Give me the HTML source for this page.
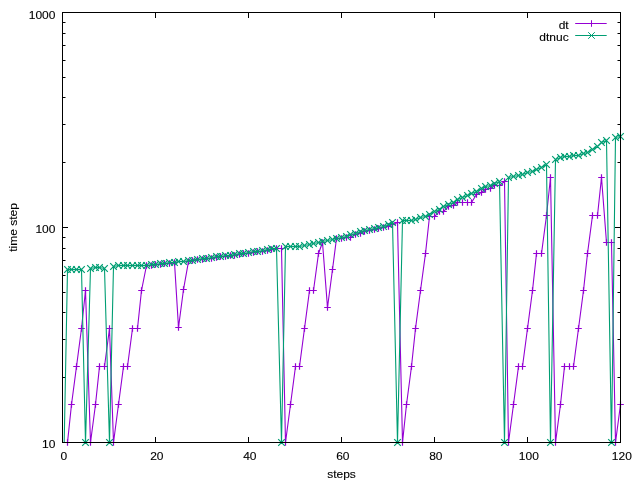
<!DOCTYPE html>
<html><head><meta charset="utf-8"><title>dt / dtnuc vs steps</title>
<style>html,body{margin:0;padding:0;background:#fff;overflow:hidden}svg{display:block}</style>
</head><body>
<svg width="640" height="480" viewBox="0 0 640 480">
<rect width="640" height="480" fill="#fff"/>
<path d="M62.5 442.5h5.5M620.5 442.5h-5.5M62.5 377.50h3M620.5 377.50h-3M62.5 339.50h3M620.5 339.50h-3M62.5 312.50h3M620.5 312.50h-3M62.5 292.50h3M620.5 292.50h-3M62.5 275.50h3M620.5 275.50h-3M62.5 260.50h3M620.5 260.50h-3M62.5 248.50h3M620.5 248.50h-3M62.5 237.50h3M620.5 237.50h-3M62.5 227.5h5.5M620.5 227.5h-5.5M62.5 162.50h3M620.5 162.50h-3M62.5 124.50h3M620.5 124.50h-3M62.5 97.50h3M620.5 97.50h-3M62.5 77.50h3M620.5 77.50h-3M62.5 60.50h3M620.5 60.50h-3M62.5 45.50h3M620.5 45.50h-3M62.5 33.50h3M620.5 33.50h-3M62.5 22.50h3M620.5 22.50h-3M62.5 12.5h5.5M620.5 12.5h-5.5M62.50 442.5v-5.5M62.50 12.5v5.5M155.50 442.5v-5.5M155.50 12.5v5.5M248.50 442.5v-5.5M248.50 12.5v5.5M341.50 442.5v-5.5M341.50 12.5v5.5M434.50 442.5v-5.5M434.50 12.5v5.5M527.50 442.5v-5.5M527.50 12.5v5.5M620.50 442.5v-5.5M620.50 12.5v5.5" stroke="#000" stroke-width="1" fill="none"/>
<g font-family="'Liberation Sans', sans-serif" font-size="12" fill="#000" stroke="#000" stroke-width="0.12">
<text transform="translate(55.4 19.0) scale(1 0.96)" text-anchor="end">1000</text>
<text transform="translate(55.4 233.0) scale(1 0.96)" text-anchor="end">100</text>
<text transform="translate(55.4 448.0) scale(1 0.96)" text-anchor="end">10</text>
<text transform="translate(63.8 460.0) scale(1 0.96)" text-anchor="middle">0</text>
<text transform="translate(156.8 460.0) scale(1 0.96)" text-anchor="middle">20</text>
<text transform="translate(249.8 460.0) scale(1 0.96)" text-anchor="middle">40</text>
<text transform="translate(342.8 460.0) scale(1 0.96)" text-anchor="middle">60</text>
<text transform="translate(435.8 460.0) scale(1 0.96)" text-anchor="middle">80</text>
<text transform="translate(528.8 460.0) scale(1 0.96)" text-anchor="middle">100</text>
<text transform="translate(621.8 460.0) scale(1 0.96)" text-anchor="middle">120</text>
<text transform="translate(341.5 477.5) scale(1 0.96)" text-anchor="middle">steps</text>
<text transform="translate(16.7 227.5) rotate(-90) scale(1 0.96)" text-anchor="middle">time step</text>
<text transform="translate(568.7 28.8) scale(1 0.96)" text-anchor="end">dt</text>
<text transform="translate(568.7 40.8) scale(1 0.96)" text-anchor="end">dtnuc</text>
</g>
<path d="M67.50 442.50L71.50 404.50L76.50 366.50L81.50 328.50L85.50 290.50L90.50 442.50L95.50 404.50L99.50 366.50L104.50 366.50L109.50 328.50L113.50 442.50L118.50 404.50L123.50 366.50L127.50 366.50L132.50 328.50L137.50 328.50L141.50 290.50L146.50 265.50L151.50 265.50L155.50 264.50L160.50 264.50L164.50 263.50L169.50 263.50L174.50 262.50L178.50 327.50L183.50 289.50L188.50 261.50L192.50 260.50L197.50 259.50L202.50 259.50L206.50 258.50L211.50 258.50L216.50 257.50L220.50 256.50L225.50 256.50L230.50 255.50L234.50 255.50L239.50 254.50L243.50 253.50L248.50 253.50L253.50 252.50L257.50 251.50L262.50 251.50L267.50 250.50L271.50 249.50L276.50 248.50L281.50 248.50L285.50 442.50L290.50 404.50L295.50 366.50L299.50 366.50L304.50 328.50L309.50 290.50L313.50 290.50L318.50 253.50L322.50 242.50L327.50 307.50L332.50 269.50L336.50 238.50L341.50 238.50L346.50 237.50L350.50 237.50L355.50 234.50L360.50 233.50L364.50 231.50L369.50 230.50L374.50 229.50L378.50 228.50L383.50 227.50L388.50 226.50L392.50 224.50L397.50 222.50L402.50 442.50L406.50 404.50L411.50 366.50L415.50 328.50L420.50 290.50L425.50 253.50L429.50 216.50L434.50 216.50L439.50 211.50L443.50 211.50L448.50 206.50L453.50 205.50L457.50 202.50L462.50 202.50L467.50 202.50L471.50 202.50L476.50 194.50L481.50 192.50L485.50 189.50L490.50 188.50L494.50 185.50L499.50 185.50L504.50 181.50L508.50 442.50L513.50 404.50L518.50 366.50L522.50 366.50L527.50 328.50L532.50 290.50L536.50 253.50L541.50 253.50L546.50 215.50L550.50 177.50L555.50 442.50L560.50 404.50L564.50 366.50L569.50 366.50L573.50 366.50L578.50 328.50L583.50 290.50L587.50 253.50L592.50 215.50L597.50 215.50L601.50 177.50L606.50 242.50L611.50 242.50L615.50 442.50L620.50 404.50" stroke="#9400d3" stroke-width="1.1" fill="none" stroke-linejoin="miter"/>
<path d="M64.20 442.50h6.6M67.50 439.20v6.6M68.20 404.50h6.6M71.50 401.20v6.6M73.20 366.50h6.6M76.50 363.20v6.6M78.20 328.50h6.6M81.50 325.20v6.6M82.20 290.50h6.6M85.50 287.20v6.6M87.20 442.50h6.6M90.50 439.20v6.6M92.20 404.50h6.6M95.50 401.20v6.6M96.20 366.50h6.6M99.50 363.20v6.6M101.20 366.50h6.6M104.50 363.20v6.6M106.20 328.50h6.6M109.50 325.20v6.6M110.20 442.50h6.6M113.50 439.20v6.6M115.20 404.50h6.6M118.50 401.20v6.6M120.20 366.50h6.6M123.50 363.20v6.6M124.20 366.50h6.6M127.50 363.20v6.6M129.20 328.50h6.6M132.50 325.20v6.6M134.20 328.50h6.6M137.50 325.20v6.6M138.20 290.50h6.6M141.50 287.20v6.6M143.20 265.50h6.6M146.50 262.20v6.6M148.20 265.50h6.6M151.50 262.20v6.6M152.20 264.50h6.6M155.50 261.20v6.6M157.20 264.50h6.6M160.50 261.20v6.6M161.20 263.50h6.6M164.50 260.20v6.6M166.20 263.50h6.6M169.50 260.20v6.6M171.20 262.50h6.6M174.50 259.20v6.6M175.20 327.50h6.6M178.50 324.20v6.6M180.20 289.50h6.6M183.50 286.20v6.6M185.20 261.50h6.6M188.50 258.20v6.6M189.20 260.50h6.6M192.50 257.20v6.6M194.20 259.50h6.6M197.50 256.20v6.6M199.20 259.50h6.6M202.50 256.20v6.6M203.20 258.50h6.6M206.50 255.20v6.6M208.20 258.50h6.6M211.50 255.20v6.6M213.20 257.50h6.6M216.50 254.20v6.6M217.20 256.50h6.6M220.50 253.20v6.6M222.20 256.50h6.6M225.50 253.20v6.6M227.20 255.50h6.6M230.50 252.20v6.6M231.20 255.50h6.6M234.50 252.20v6.6M236.20 254.50h6.6M239.50 251.20v6.6M240.20 253.50h6.6M243.50 250.20v6.6M245.20 253.50h6.6M248.50 250.20v6.6M250.20 252.50h6.6M253.50 249.20v6.6M254.20 251.50h6.6M257.50 248.20v6.6M259.20 251.50h6.6M262.50 248.20v6.6M264.20 250.50h6.6M267.50 247.20v6.6M268.20 249.50h6.6M271.50 246.20v6.6M273.20 248.50h6.6M276.50 245.20v6.6M278.20 248.50h6.6M281.50 245.20v6.6M282.20 442.50h6.6M285.50 439.20v6.6M287.20 404.50h6.6M290.50 401.20v6.6M292.20 366.50h6.6M295.50 363.20v6.6M296.20 366.50h6.6M299.50 363.20v6.6M301.20 328.50h6.6M304.50 325.20v6.6M306.20 290.50h6.6M309.50 287.20v6.6M310.20 290.50h6.6M313.50 287.20v6.6M315.20 253.50h6.6M318.50 250.20v6.6M319.20 242.50h6.6M322.50 239.20v6.6M324.20 307.50h6.6M327.50 304.20v6.6M329.20 269.50h6.6M332.50 266.20v6.6M333.20 238.50h6.6M336.50 235.20v6.6M338.20 238.50h6.6M341.50 235.20v6.6M343.20 237.50h6.6M346.50 234.20v6.6M347.20 237.50h6.6M350.50 234.20v6.6M352.20 234.50h6.6M355.50 231.20v6.6M357.20 233.50h6.6M360.50 230.20v6.6M361.20 231.50h6.6M364.50 228.20v6.6M366.20 230.50h6.6M369.50 227.20v6.6M371.20 229.50h6.6M374.50 226.20v6.6M375.20 228.50h6.6M378.50 225.20v6.6M380.20 227.50h6.6M383.50 224.20v6.6M385.20 226.50h6.6M388.50 223.20v6.6M389.20 224.50h6.6M392.50 221.20v6.6M394.20 222.50h6.6M397.50 219.20v6.6M399.20 442.50h6.6M402.50 439.20v6.6M403.20 404.50h6.6M406.50 401.20v6.6M408.20 366.50h6.6M411.50 363.20v6.6M412.20 328.50h6.6M415.50 325.20v6.6M417.20 290.50h6.6M420.50 287.20v6.6M422.20 253.50h6.6M425.50 250.20v6.6M426.20 216.50h6.6M429.50 213.20v6.6M431.20 216.50h6.6M434.50 213.20v6.6M436.20 211.50h6.6M439.50 208.20v6.6M440.20 211.50h6.6M443.50 208.20v6.6M445.20 206.50h6.6M448.50 203.20v6.6M450.20 205.50h6.6M453.50 202.20v6.6M454.20 202.50h6.6M457.50 199.20v6.6M459.20 202.50h6.6M462.50 199.20v6.6M464.20 202.50h6.6M467.50 199.20v6.6M468.20 202.50h6.6M471.50 199.20v6.6M473.20 194.50h6.6M476.50 191.20v6.6M478.20 192.50h6.6M481.50 189.20v6.6M482.20 189.50h6.6M485.50 186.20v6.6M487.20 188.50h6.6M490.50 185.20v6.6M491.20 185.50h6.6M494.50 182.20v6.6M496.20 185.50h6.6M499.50 182.20v6.6M501.20 181.50h6.6M504.50 178.20v6.6M505.20 442.50h6.6M508.50 439.20v6.6M510.20 404.50h6.6M513.50 401.20v6.6M515.20 366.50h6.6M518.50 363.20v6.6M519.20 366.50h6.6M522.50 363.20v6.6M524.20 328.50h6.6M527.50 325.20v6.6M529.20 290.50h6.6M532.50 287.20v6.6M533.20 253.50h6.6M536.50 250.20v6.6M538.20 253.50h6.6M541.50 250.20v6.6M543.20 215.50h6.6M546.50 212.20v6.6M547.20 177.50h6.6M550.50 174.20v6.6M552.20 442.50h6.6M555.50 439.20v6.6M557.20 404.50h6.6M560.50 401.20v6.6M561.20 366.50h6.6M564.50 363.20v6.6M566.20 366.50h6.6M569.50 363.20v6.6M570.20 366.50h6.6M573.50 363.20v6.6M575.20 328.50h6.6M578.50 325.20v6.6M580.20 290.50h6.6M583.50 287.20v6.6M584.20 253.50h6.6M587.50 250.20v6.6M589.20 215.50h6.6M592.50 212.20v6.6M594.20 215.50h6.6M597.50 212.20v6.6M598.20 177.50h6.6M601.50 174.20v6.6M603.20 242.50h6.6M606.50 239.20v6.6M608.20 242.50h6.6M611.50 239.20v6.6M612.20 442.50h6.6M615.50 439.20v6.6M617.20 404.50h6.6M620.50 401.20v6.6" stroke="#9400d3" stroke-width="1.2" fill="none"/>
<path d="M575.2 23.5h31.5M588.20 23.50h6.6M591.50 20.20v6.6" stroke="#9400d3" stroke-width="1" fill="none"/>
<path d="M64.2 442.5L67.50 269.50L71.50 269.50L76.50 269.50L81.50 269.50L85.50 442.50L90.50 268.50L95.50 267.50L99.50 267.50L104.50 268.50L109.50 442.50L113.50 266.50L118.50 265.50L123.50 265.50L127.50 265.50L132.50 265.50L137.50 265.50L141.50 265.50L146.50 265.50L151.50 264.50L155.50 264.50L160.50 263.50L164.50 263.50L169.50 262.50L174.50 262.50L178.50 261.50L183.50 261.50L188.50 260.50L192.50 260.50L197.50 259.50L202.50 258.50L206.50 258.50L211.50 257.50L216.50 256.50L220.50 256.50L225.50 255.50L230.50 255.50L234.50 254.50L239.50 253.50L243.50 253.50L248.50 252.50L253.50 251.50L257.50 251.50L262.50 250.50L267.50 249.50L271.50 248.50L276.50 248.50L281.50 442.50L285.50 246.50L290.50 246.50L295.50 246.50L299.50 246.50L304.50 245.50L309.50 244.50L313.50 243.50L318.50 242.50L322.50 241.50L327.50 240.50L332.50 239.50L336.50 238.50L341.50 237.50L346.50 236.50L350.50 234.50L355.50 233.50L360.50 231.50L364.50 230.50L369.50 229.50L374.50 228.50L378.50 227.50L383.50 226.50L388.50 224.50L392.50 222.50L397.50 442.50L402.50 220.50L406.50 220.50L411.50 220.50L415.50 219.50L420.50 217.50L425.50 216.50L429.50 214.50L434.50 211.50L439.50 209.50L443.50 206.50L448.50 204.50L453.50 202.50L457.50 199.50L462.50 197.50L467.50 195.50L471.50 193.50L476.50 191.50L481.50 188.50L485.50 186.50L490.50 185.50L494.50 183.50L499.50 181.50L504.50 442.50L508.50 177.50L513.50 176.50L518.50 175.50L522.50 174.50L527.50 172.50L532.50 171.50L536.50 169.50L541.50 167.50L546.50 164.50L550.50 442.50L555.50 159.50L560.50 157.50L564.50 156.50L569.50 156.50L573.50 155.50L578.50 155.50L583.50 153.50L587.50 152.50L592.50 149.50L597.50 146.50L601.50 142.50L606.50 140.50L611.50 442.50L615.50 137.50L620.50 136.50" stroke="#009e73" stroke-width="1.1" fill="none"/>
<path d="M64.20 266.20l6.6 6.6M64.20 272.80l6.6 -6.6M68.20 266.20l6.6 6.6M68.20 272.80l6.6 -6.6M73.20 266.20l6.6 6.6M73.20 272.80l6.6 -6.6M78.20 266.20l6.6 6.6M78.20 272.80l6.6 -6.6M82.20 439.20l6.6 6.6M82.20 445.80l6.6 -6.6M87.20 265.20l6.6 6.6M87.20 271.80l6.6 -6.6M92.20 264.20l6.6 6.6M92.20 270.80l6.6 -6.6M96.20 264.20l6.6 6.6M96.20 270.80l6.6 -6.6M101.20 265.20l6.6 6.6M101.20 271.80l6.6 -6.6M106.20 439.20l6.6 6.6M106.20 445.80l6.6 -6.6M110.20 263.20l6.6 6.6M110.20 269.80l6.6 -6.6M115.20 262.20l6.6 6.6M115.20 268.80l6.6 -6.6M120.20 262.20l6.6 6.6M120.20 268.80l6.6 -6.6M124.20 262.20l6.6 6.6M124.20 268.80l6.6 -6.6M129.20 262.20l6.6 6.6M129.20 268.80l6.6 -6.6M134.20 262.20l6.6 6.6M134.20 268.80l6.6 -6.6M138.20 262.20l6.6 6.6M138.20 268.80l6.6 -6.6M143.20 262.20l6.6 6.6M143.20 268.80l6.6 -6.6M148.20 261.20l6.6 6.6M148.20 267.80l6.6 -6.6M152.20 261.20l6.6 6.6M152.20 267.80l6.6 -6.6M157.20 260.20l6.6 6.6M157.20 266.80l6.6 -6.6M161.20 260.20l6.6 6.6M161.20 266.80l6.6 -6.6M166.20 259.20l6.6 6.6M166.20 265.80l6.6 -6.6M171.20 259.20l6.6 6.6M171.20 265.80l6.6 -6.6M175.20 258.20l6.6 6.6M175.20 264.80l6.6 -6.6M180.20 258.20l6.6 6.6M180.20 264.80l6.6 -6.6M185.20 257.20l6.6 6.6M185.20 263.80l6.6 -6.6M189.20 257.20l6.6 6.6M189.20 263.80l6.6 -6.6M194.20 256.20l6.6 6.6M194.20 262.80l6.6 -6.6M199.20 255.20l6.6 6.6M199.20 261.80l6.6 -6.6M203.20 255.20l6.6 6.6M203.20 261.80l6.6 -6.6M208.20 254.20l6.6 6.6M208.20 260.80l6.6 -6.6M213.20 253.20l6.6 6.6M213.20 259.80l6.6 -6.6M217.20 253.20l6.6 6.6M217.20 259.80l6.6 -6.6M222.20 252.20l6.6 6.6M222.20 258.80l6.6 -6.6M227.20 252.20l6.6 6.6M227.20 258.80l6.6 -6.6M231.20 251.20l6.6 6.6M231.20 257.80l6.6 -6.6M236.20 250.20l6.6 6.6M236.20 256.80l6.6 -6.6M240.20 250.20l6.6 6.6M240.20 256.80l6.6 -6.6M245.20 249.20l6.6 6.6M245.20 255.80l6.6 -6.6M250.20 248.20l6.6 6.6M250.20 254.80l6.6 -6.6M254.20 248.20l6.6 6.6M254.20 254.80l6.6 -6.6M259.20 247.20l6.6 6.6M259.20 253.80l6.6 -6.6M264.20 246.20l6.6 6.6M264.20 252.80l6.6 -6.6M268.20 245.20l6.6 6.6M268.20 251.80l6.6 -6.6M273.20 245.20l6.6 6.6M273.20 251.80l6.6 -6.6M278.20 439.20l6.6 6.6M278.20 445.80l6.6 -6.6M282.20 243.20l6.6 6.6M282.20 249.80l6.6 -6.6M287.20 243.20l6.6 6.6M287.20 249.80l6.6 -6.6M292.20 243.20l6.6 6.6M292.20 249.80l6.6 -6.6M296.20 243.20l6.6 6.6M296.20 249.80l6.6 -6.6M301.20 242.20l6.6 6.6M301.20 248.80l6.6 -6.6M306.20 241.20l6.6 6.6M306.20 247.80l6.6 -6.6M310.20 240.20l6.6 6.6M310.20 246.80l6.6 -6.6M315.20 239.20l6.6 6.6M315.20 245.80l6.6 -6.6M319.20 238.20l6.6 6.6M319.20 244.80l6.6 -6.6M324.20 237.20l6.6 6.6M324.20 243.80l6.6 -6.6M329.20 236.20l6.6 6.6M329.20 242.80l6.6 -6.6M333.20 235.20l6.6 6.6M333.20 241.80l6.6 -6.6M338.20 234.20l6.6 6.6M338.20 240.80l6.6 -6.6M343.20 233.20l6.6 6.6M343.20 239.80l6.6 -6.6M347.20 231.20l6.6 6.6M347.20 237.80l6.6 -6.6M352.20 230.20l6.6 6.6M352.20 236.80l6.6 -6.6M357.20 228.20l6.6 6.6M357.20 234.80l6.6 -6.6M361.20 227.20l6.6 6.6M361.20 233.80l6.6 -6.6M366.20 226.20l6.6 6.6M366.20 232.80l6.6 -6.6M371.20 225.20l6.6 6.6M371.20 231.80l6.6 -6.6M375.20 224.20l6.6 6.6M375.20 230.80l6.6 -6.6M380.20 223.20l6.6 6.6M380.20 229.80l6.6 -6.6M385.20 221.20l6.6 6.6M385.20 227.80l6.6 -6.6M389.20 219.20l6.6 6.6M389.20 225.80l6.6 -6.6M394.20 439.20l6.6 6.6M394.20 445.80l6.6 -6.6M399.20 217.20l6.6 6.6M399.20 223.80l6.6 -6.6M403.20 217.20l6.6 6.6M403.20 223.80l6.6 -6.6M408.20 217.20l6.6 6.6M408.20 223.80l6.6 -6.6M412.20 216.20l6.6 6.6M412.20 222.80l6.6 -6.6M417.20 214.20l6.6 6.6M417.20 220.80l6.6 -6.6M422.20 213.20l6.6 6.6M422.20 219.80l6.6 -6.6M426.20 211.20l6.6 6.6M426.20 217.80l6.6 -6.6M431.20 208.20l6.6 6.6M431.20 214.80l6.6 -6.6M436.20 206.20l6.6 6.6M436.20 212.80l6.6 -6.6M440.20 203.20l6.6 6.6M440.20 209.80l6.6 -6.6M445.20 201.20l6.6 6.6M445.20 207.80l6.6 -6.6M450.20 199.20l6.6 6.6M450.20 205.80l6.6 -6.6M454.20 196.20l6.6 6.6M454.20 202.80l6.6 -6.6M459.20 194.20l6.6 6.6M459.20 200.80l6.6 -6.6M464.20 192.20l6.6 6.6M464.20 198.80l6.6 -6.6M468.20 190.20l6.6 6.6M468.20 196.80l6.6 -6.6M473.20 188.20l6.6 6.6M473.20 194.80l6.6 -6.6M478.20 185.20l6.6 6.6M478.20 191.80l6.6 -6.6M482.20 183.20l6.6 6.6M482.20 189.80l6.6 -6.6M487.20 182.20l6.6 6.6M487.20 188.80l6.6 -6.6M491.20 180.20l6.6 6.6M491.20 186.80l6.6 -6.6M496.20 178.20l6.6 6.6M496.20 184.80l6.6 -6.6M501.20 439.20l6.6 6.6M501.20 445.80l6.6 -6.6M505.20 174.20l6.6 6.6M505.20 180.80l6.6 -6.6M510.20 173.20l6.6 6.6M510.20 179.80l6.6 -6.6M515.20 172.20l6.6 6.6M515.20 178.80l6.6 -6.6M519.20 171.20l6.6 6.6M519.20 177.80l6.6 -6.6M524.20 169.20l6.6 6.6M524.20 175.80l6.6 -6.6M529.20 168.20l6.6 6.6M529.20 174.80l6.6 -6.6M533.20 166.20l6.6 6.6M533.20 172.80l6.6 -6.6M538.20 164.20l6.6 6.6M538.20 170.80l6.6 -6.6M543.20 161.20l6.6 6.6M543.20 167.80l6.6 -6.6M547.20 439.20l6.6 6.6M547.20 445.80l6.6 -6.6M552.20 156.20l6.6 6.6M552.20 162.80l6.6 -6.6M557.20 154.20l6.6 6.6M557.20 160.80l6.6 -6.6M561.20 153.20l6.6 6.6M561.20 159.80l6.6 -6.6M566.20 153.20l6.6 6.6M566.20 159.80l6.6 -6.6M570.20 152.20l6.6 6.6M570.20 158.80l6.6 -6.6M575.20 152.20l6.6 6.6M575.20 158.80l6.6 -6.6M580.20 150.20l6.6 6.6M580.20 156.80l6.6 -6.6M584.20 149.20l6.6 6.6M584.20 155.80l6.6 -6.6M589.20 146.20l6.6 6.6M589.20 152.80l6.6 -6.6M594.20 143.20l6.6 6.6M594.20 149.80l6.6 -6.6M598.20 139.20l6.6 6.6M598.20 145.80l6.6 -6.6M603.20 137.20l6.6 6.6M603.20 143.80l6.6 -6.6M608.20 439.20l6.6 6.6M608.20 445.80l6.6 -6.6M612.20 134.20l6.6 6.6M612.20 140.80l6.6 -6.6M617.20 133.20l6.6 6.6M617.20 139.80l6.6 -6.6" stroke="#009e73" stroke-width="1.2" fill="none"/>
<path d="M575.2 35.5h31.5M588.20 32.20l6.6 6.6M588.20 38.80l6.6 -6.6" stroke="#009e73" stroke-width="1" fill="none"/>
<rect x="62.5" y="12.5" width="558.0" height="430.0" fill="none" stroke="#000" stroke-width="1"/>
</svg>
</body></html>
